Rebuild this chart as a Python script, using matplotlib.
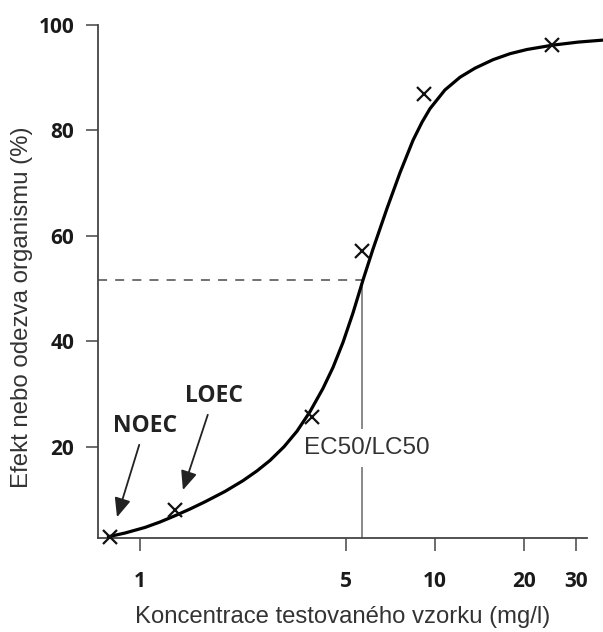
import numpy as np
import matplotlib
matplotlib.use('Agg')
import matplotlib.pyplot as plt

# measured points (concentration mg/l, effect %)
conc_pts = [0.79, 1.31, 3.83, 5.65, 9.17, 24.9]
effect_pts = [2.8, 8.0, 25.6, 57.2, 87.0, 96.3]

# fitted dose-response curve
curve_x = [0.773, 0.890, 1.040, 1.169, 1.314, 1.477, 1.660, 1.941, 2.234,
           2.491, 2.757, 3.074, 3.403, 3.765, 4.168, 4.507, 4.871, 5.267,
           5.695, 6.157, 6.866, 7.600, 8.413, 9.021, 9.602, 10.79, 12.14,
           13.64, 15.70, 17.92, 20.47, 25.06, 30.46, 37.02]
curve_y = [2.84, 3.60, 4.66, 5.69, 6.88, 8.15, 9.52, 11.49, 13.54,
           15.39, 17.37, 19.96, 22.92, 26.62, 31.05, 35.03, 39.77, 45.37,
           51.62, 57.50, 65.19, 71.98, 78.14, 81.55, 84.13, 87.68, 90.10,
           91.81, 93.42, 94.56, 95.36, 96.19, 96.76, 97.14]

ec50_x = 5.67
ec50_y = 51.6

xticks = [1, 5, 10, 20, 30]
yticks = [20, 40, 60, 80, 100]

label_font = 'Liberation Sans'
tick_font = 'Open Sans'

xmin, xmax = 0.7207, 32.68
ymin, ymax = 2.65, 100

fig = plt.figure(figsize=(6.03, 6.32), dpi=100)
ax = fig.add_axes([0.1625, 0.1487, 0.811, 0.8117])

ax.set_xscale('log')
ax.set_xlim(xmin, xmax)
ax.set_ylim(ymin, ymax)

# EC50 guide lines
ax.plot([xmin, ec50_x], [ec50_y, ec50_y], color='#666666', lw=1.3,
        linestyle=(0, (5, 4.5)), zorder=1)
ax.plot([ec50_x, ec50_x], [ymin, ec50_y], color='#808080', lw=1.3, zorder=1)

# curve and measurements
ax.plot(curve_x, curve_y, color='black', lw=2.3, zorder=3, clip_on=False,
        solid_capstyle='butt', solid_joinstyle='round')
ax.plot(conc_pts, effect_pts, linestyle='none', marker='x', color='#111111',
        markersize=10, markeredgewidth=1.6, zorder=4, clip_on=False)

ax.text(5.87, 19.7, 'EC50/LC50', ha='center', va='center', fontsize=17.5,
        family=label_font, color='#333333', zorder=2,
        bbox=dict(facecolor='white', edgecolor='none', pad=6))

arrow = dict(arrowstyle='-|>,head_length=0.7,head_width=0.3', color='#222222',
             lw=1.3, shrinkA=3, shrinkB=0)
ax.annotate('NOEC', xy=(0.836, 6.6), xytext=(1.04, 23.9), ha='center',
            va='center', fontsize=16.5, fontweight='bold', family=tick_font,
            color='#222222', arrowprops=arrow)
ax.annotate('LOEC', xy=(1.398, 11.75), xytext=(1.781, 29.6), ha='center',
            va='center', fontsize=16.5, fontweight='bold', family=tick_font,
            color='#222222', arrowprops=arrow)

# axes styling
for side in ['top', 'right']:
    ax.spines[side].set_visible(False)
for side in ['left', 'bottom']:
    ax.spines[side].set_color('#444444')
    ax.spines[side].set_linewidth(1.3)

ax.set_xticks(xticks)
ax.set_xticklabels([str(t) for t in xticks])
ax.xaxis.set_minor_locator(matplotlib.ticker.NullLocator())
ax.set_yticks(yticks)
ax.tick_params(axis='both', direction='out', length=9, width=1.1,
               color='#444444', labelsize=15, labelcolor='#1a1a1a')
ax.tick_params(axis='x', pad=15)
ax.tick_params(axis='y', pad=8)
for lab in ax.get_xticklabels() + ax.get_yticklabels():
    lab.set_family(tick_font)
    lab.set_fontweight('bold')

ax.set_xlabel('Koncentrace testovaného vzorku (mg/l)', fontsize=17.2,
              family=label_font, color='#333333', labelpad=10)
ax.set_ylabel('Efekt nebo odezva organismu (%)', fontsize=17.3,
              family=label_font, color='#333333')
ax.yaxis.set_label_coords(-0.133, 0.45)

fig.savefig('out.png', dpi=100)
plt.close(fig)
